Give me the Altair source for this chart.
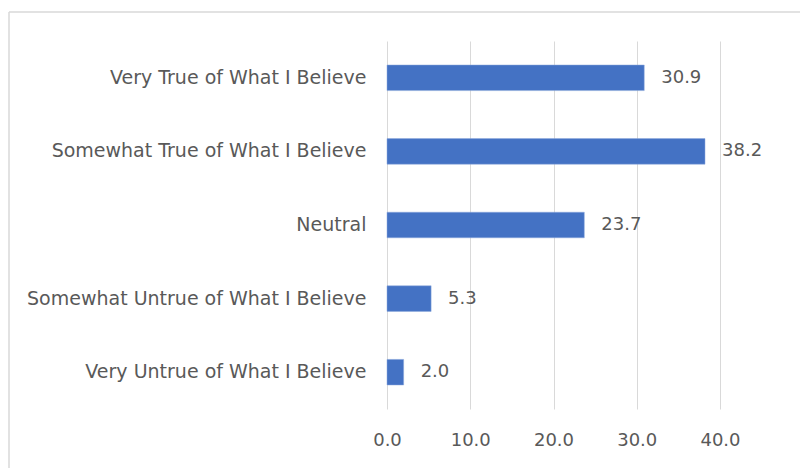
import altair as alt
import pandas as pd

categories = [
    "Very True of What I Believe",
    "Somewhat True of What I Believe",
    "Neutral",
    "Somewhat Untrue of What I Believe",
    "Very Untrue of What I Believe",
]
values = [30.9, 38.2, 23.7, 5.3, 2.0]
tick_values = [0, 10, 20, 30, 40]

df = pd.DataFrame({"category": categories, "value": values})

FONT = "DejaVu Sans"
GRAY = "#595959"

x_enc = alt.X(
    "value:Q",
    scale=alt.Scale(domain=[0, 40], nice=False),
    axis=alt.Axis(
        values=tick_values,
        format=".1f",
        title=None,
        domain=False,
        ticks=False,
        grid=True,
        gridColor="#d9d9d9",
        gridWidth=1,
        labelFont=FONT,
        labelFontSize=18,
        labelColor=GRAY,
        labelPadding=22,
        labelFlush=False,
    ),
)
y_enc = alt.Y(
    "category:N",
    sort=categories,
    scale=alt.Scale(paddingInner=0.652, paddingOuter=0.326),
    axis=alt.Axis(
        title=None,
        domain=False,
        ticks=False,
        grid=False,
        labelFont=FONT,
        labelFontSize=19,
        labelColor=GRAY,
        labelPadding=21,
        labelLimit=400,
    ),
)

bars = alt.Chart(df).mark_bar(color="#4472C4", stroke="#8faadc", strokeWidth=0.5).encode(x=x_enc, y=y_enc)

labels = alt.Chart(df).mark_text(
    align="left", baseline="middle", dx=17, font=FONT, fontSize=18, color=GRAY, clip=False
).encode(x="value:Q", y=alt.Y("category:N", sort=categories), text=alt.Text("value:Q", format=".1f"))

frame = pd.DataFrame({"k": [0]})
border = alt.Chart(frame).mark_rule(color="#d9d9d9", strokeWidth=1.5).encode(
    x=alt.value(-378), x2=alt.value(420), y=alt.value(-29)
)
border_left = alt.Chart(frame).mark_rule(color="#d9d9d9", strokeWidth=1.5).encode(
    x=alt.value(-378), y=alt.value(-29), y2=alt.value(440)
)

chart = (
    alt.layer(border, border_left, bars, labels)
    .properties(width=333, height=368, padding={"left": 387, "top": 41, "right": 80, "bottom": 59},
                autosize=alt.AutoSizeParams(type="none"),
                view=alt.ViewBackground(strokeOpacity=0, strokeWidth=0))
    .configure_view(strokeWidth=0)
    .configure(background="white")
)

chart.save("out.html", embed_options={"renderer": "svg", "actions": False})
